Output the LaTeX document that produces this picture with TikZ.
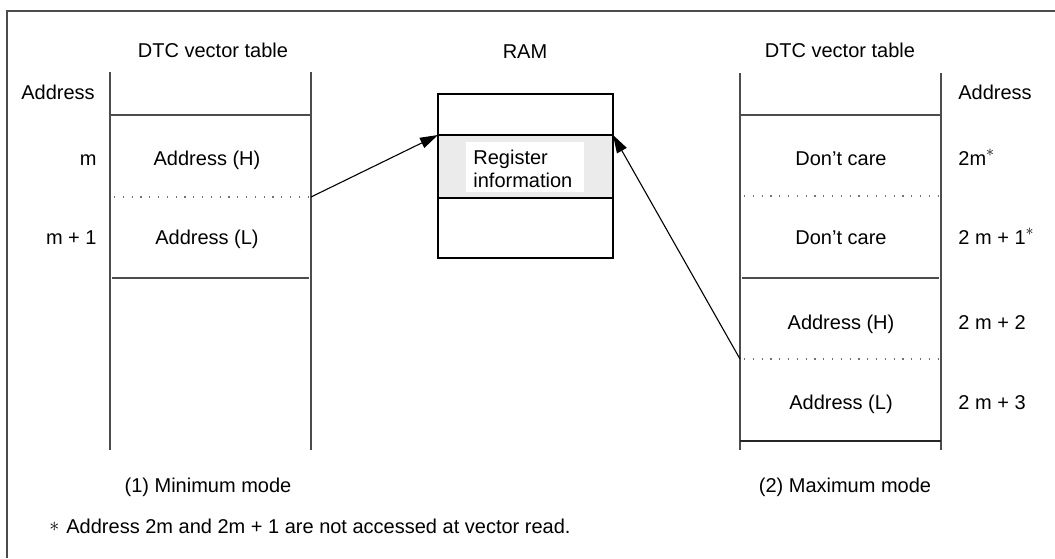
\documentclass[tikz,border=0pt]{standalone}
\usepackage{fontspec}
\setmainfont{Liberation Sans}
\usetikzlibrary{arrows.meta}
\newcommand{\supast}{\raisebox{4.2pt}{\scalebox{0.8}{$\ast$}}}
\begin{document}
\begin{tikzpicture}[x=0.5pt,y=-0.5pt,
  frame/.style={draw=black!70,line width=1pt},
  tbl/.style={draw=black!70,line width=1pt},
  tblend/.style={draw=black!85,line width=1pt},
  dotl/.style={draw=black!55,line width=0.6pt,dash pattern=on 0.6pt off 3.8pt},
  ramline/.style={draw=black,line width=0.8pt},
  arr/.style={draw=black,line width=0.55pt,-{Triangle[length=9pt,width=5.5pt]}},
  txt/.style={font=\fontsize{10}{11.5}\selectfont,inner sep=0pt,anchor=base},
  txtr/.style={txt,anchor=base east},
  txtl/.style={txt,anchor=base west},
]
\useasboundingbox (0,0) rectangle (1055,558);
\fill[white] (0,0) rectangle (1055,558);
\draw[frame] (7,558) -- (7,11) -- (1055,11);

% ---------- left table (minimum mode)
\draw[tbl] (110,72) -- (110,450);
\draw[tbl] (311,72) -- (311,450);
\draw[tbl] (110,115) -- (311,115);
\draw[dotl] (114,197) -- (311,197);
\draw[tbl] (112,278) -- (309,278);
\coordinate (lsrc) at (311,197);

\node[txt] (ltitle) at (213,57) {DTC vector table};
\node[txt] (laddr) at (58,99) {Address};
\node[txtr] (lm) at (97,165) {m};
\node[txt] (lah) at (207,165) {Address (H)};
\node[txtr] (lm1) at (97,244) {m + 1};
\node[txt] (lal) at (207,244) {Address (L)};
\node[txt] (lmode) at (208,492) {(1) Minimum mode};

% ---------- RAM
\node[txt] (ramt) at (525,58) {RAM};
\fill[black!8] (438,135) rectangle (613,198);
\fill[white] (466,142) rectangle (584,192);
\draw[ramline] (438,94) rectangle (613,258);
\draw[ramline] (438,135) -- (613,135);
\draw[ramline] (438,198) -- (613,198);
\coordinate (bandNW) at (438,135);
\coordinate (bandNE) at (613,135);
\node[font=\fontsize{10}{11.5}\selectfont,inner sep=0pt,align=left,anchor=west] (reg) at (473,168.5) {Register\\information};

% ---------- right table (maximum mode)
\draw[tbl] (740,73) -- (740,450);
\draw[tbl] (941,73) -- (941,450);
\draw[tbl] (740,115) -- (941,115);
\draw[dotl] (744,196) -- (941,196);
\draw[tbl] (742,278) -- (939,278);
\draw[dotl] (744,359) -- (941,359);
\draw[tblend] (740,441) -- (941,441);
\coordinate (rsrc) at (740,359);

\node[txt] (rtitle) at (840,57) {DTC vector table};
\node[txt] (raddr) at (995,99) {Address};
\node[txt] (rdc1) at (841,165) {Don’t care};
\node[txtl] (r2m) at (958,165) {2m\supast};
\node[txt] (rdc2) at (841,244) {Don’t care};
\node[txtl] (r2m1) at (958,244) {2 m + 1\supast};
\node[txt] (rah) at (841,329) {Address (H)};
\node[txtl] (r2m2) at (958,329) {2 m + 2};
\node[txt] (ral) at (841,409) {Address (L)};
\node[txtl] (r2m3) at (958,409) {2 m + 3};
\node[txt] (rmode) at (845,492) {(2) Maximum mode};

% ---------- connectors
\draw[arr] (lsrc) -- (bandNW);
\draw[arr] (rsrc) -- (bandNE);

% ---------- footnote
\node[txtl] (fn) at (49,533) {\raisebox{1pt}{$\ast$}\hspace{3.5pt}Address 2m and 2m + 1 are not accessed at vector read.};
\end{tikzpicture}
\end{document}
